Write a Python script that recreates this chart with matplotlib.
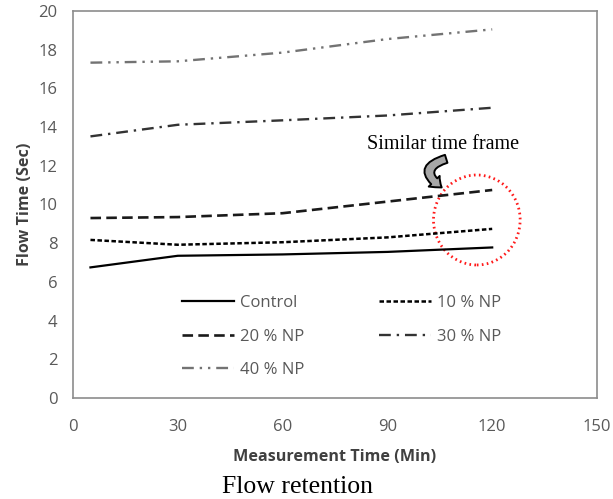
import matplotlib
matplotlib.use("Agg")
import matplotlib.pyplot as plt
from matplotlib.patches import Ellipse, FancyArrowPatch

times = [5, 30, 60, 90, 120]
control = [6.75, 7.35, 7.42, 7.55, 7.78]
np10 = [8.17, 7.92, 8.05, 8.3, 8.74]
np20 = [9.3, 9.35, 9.55, 10.15, 10.75]
np30 = [13.52, 14.12, 14.35, 14.6, 15.0]
np40 = [17.33, 17.4, 17.85, 18.55, 19.05]
labels = ["Control", "10 % NP", "20 % NP", "30 % NP", "40 % NP"]
xticks = [0, 30, 60, 90, 120, 150]
yticks = list(range(0, 21, 2))

W, H = 613, 499
fig = plt.figure(figsize=(W / 100, H / 100), dpi=100)
ax = fig.add_axes([73 / W, (H - 398) / H, (597 - 73) / W, (398 - 11) / H])

sans = ["Open Sans", "DejaVu Sans"]
serif = ["Liberation Serif", "DejaVu Serif"]

l0, = ax.plot(times, control, color="black", lw=1.6, ls="-", label=labels[0])
l1, = ax.plot(times, np10, color="black", lw=1.8, ls=(0, (1.8, 1.0)), label=labels[1])
l2, = ax.plot(times, np20, color="#1a1a1a", lw=1.9, ls=(0, (4, 2)), label=labels[2])
l3, = ax.plot(times, np30, color="#333333", lw=1.7, ls=(0, (5, 2.5, 1, 2.5)), label=labels[3])
l4, = ax.plot(times, np40, color="#737373", lw=1.7, ls=(0, (5, 2.5, 1, 2.5, 1, 2.5)), label=labels[4])

ax.set_xlim(0, 150)
ax.set_ylim(0, 20)
ax.set_xticks(xticks)
ax.set_yticks(yticks)
ax.tick_params(length=0, labelsize=12, labelcolor="#595959")
ax.tick_params(axis="x", pad=15)
ax.tick_params(axis="y", pad=11)
for lab in ax.get_xticklabels() + ax.get_yticklabels():
    lab.set_family(sans)
for s in ax.spines.values():
    s.set_color("#8c8c8c")
    s.set_linewidth(1.2)

ax.set_xlabel("Measurement Time (Min)", fontsize=11.6, fontweight="bold",
              color="#404040", family=sans, labelpad=10)
ax.set_ylabel("Flow Time (Sec)", fontsize=11.6, fontweight="bold",
              color="#404040", family=sans, labelpad=4)

handles = [l0, l2, l4, l1, l3]
leg = ax.legend(handles, [h.get_label() for h in handles],
                loc="upper left", bbox_to_anchor=(0.18, 0.305), ncol=2, frameon=False,
                handlelength=3.1, columnspacing=4.5, labelspacing=1.06,
                handletextpad=0.35, prop={"family": sans, "size": 12})
for t in leg.get_texts():
    t.set_color("#595959")

# red dotted circle
circ = Ellipse((115.6, 9.2), width=24.8, height=4.65, fill=False,
               edgecolor="#ff1a1a", lw=2.0, ls=(0, (0.6, 1.2)))
ax.add_patch(circ)

ax.text(105.8, 13.1, "Similar time frame", family=serif, fontsize=14.5,
        ha="center", va="center", color="black")
arr = FancyArrowPatch((107.6, 12.4), (106.2, 10.8), connectionstyle="arc3,rad=1.1",
                      arrowstyle="simple,head_width=11,head_length=7,tail_width=6",
                      facecolor="#a6a6a6", edgecolor="black", lw=1.4)
ax.add_patch(arr)

fig.text(297 / W, 1 - 487 / H, "Flow retention", family=serif, fontsize=18.5,
         ha="center", va="center", color="black")

fig.savefig("out.png", dpi=100)
